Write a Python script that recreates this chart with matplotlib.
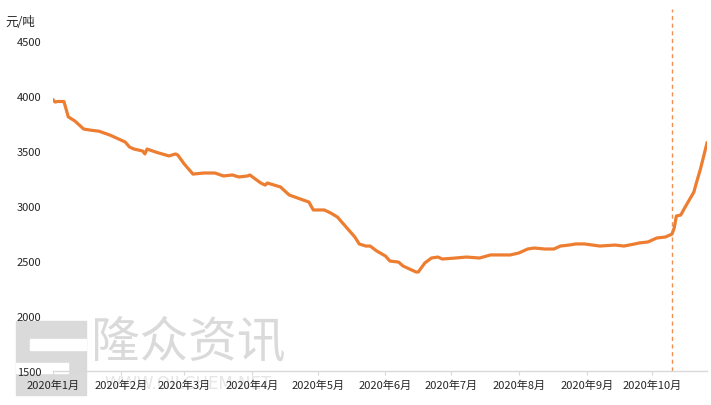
"""Price trend 2020 with a marker line at the October change."""

import matplotlib
matplotlib.use("Agg")
import matplotlib.pyplot as plt
import matplotlib.patches as patches
import pandas as pd

plt.rcParams["font.family"] = ["Noto Sans CJK SC", "DejaVu Sans"]

# Data.
dates = [
    "2020-01-01", "2020-01-02", "2020-01-03", "2020-01-06", "2020-01-08",
    "2020-01-11", "2020-01-15", "2020-01-18", "2020-01-22", "2020-01-27",
    "2020-02-03", "2020-02-05", "2020-02-07", "2020-02-11", "2020-02-12",
    "2020-02-13", "2020-02-17", "2020-02-23", "2020-02-26", "2020-02-27",
    "2020-03-01", "2020-03-05", "2020-03-10", "2020-03-15", "2020-03-19",
    "2020-03-23", "2020-03-26", "2020-03-30", "2020-03-31", "2020-04-05",
    "2020-04-07", "2020-04-08", "2020-04-14", "2020-04-18", "2020-04-23",
    "2020-04-27", "2020-04-29", "2020-05-04", "2020-05-07", "2020-05-10",
    "2020-05-14", "2020-05-18", "2020-05-20", "2020-05-23", "2020-05-25",
    "2020-05-28", "2020-06-01", "2020-06-03", "2020-06-07", "2020-06-09",
    "2020-06-12", "2020-06-15", "2020-06-16", "2020-06-19", "2020-06-22",
    "2020-06-25", "2020-06-27", "2020-07-03", "2020-07-08", "2020-07-14",
    "2020-07-19", "2020-07-28", "2020-08-01", "2020-08-05", "2020-08-08",
    "2020-08-13", "2020-08-17", "2020-08-20", "2020-08-24", "2020-08-27",
    "2020-08-31", "2020-09-07", "2020-09-14", "2020-09-18", "2020-09-23",
    "2020-09-25", "2020-09-29", "2020-10-03", "2020-10-07", "2020-10-10",
    "2020-10-11", "2020-10-12", "2020-10-14", "2020-10-16", "2020-10-20",
    "2020-10-21", "2020-10-23", "2020-10-26",
]
prices = [
    3965, 3945, 3950, 3950, 3810,
    3773, 3700, 3690, 3680, 3645,
    3582, 3536, 3518, 3500, 3473,
    3518, 3490, 3455, 3473, 3464,
    3382, 3290, 3300, 3300, 3273,
    3282, 3264, 3273, 3282, 3209,
    3190, 3209, 3173, 3100, 3064,
    3036, 2964, 2964, 2936, 2900,
    2809, 2718, 2655, 2636, 2636,
    2591, 2545, 2500, 2490, 2455,
    2427, 2400, 2400, 2482, 2527,
    2536, 2518, 2527, 2536, 2527,
    2555, 2555, 2573, 2609, 2618,
    2609, 2609, 2636, 2645, 2655,
    2655, 2636, 2645, 2636, 2655,
    2664, 2673, 2709, 2718, 2745,
    2800, 2909, 2918, 2990, 3127,
    3200, 3336, 3573,
]
marker_date = "2020-10-10"
month_ticks = pd.date_range("2020-01-01", "2020-10-01", freq="MS")
month_labels = ["2020年{}月".format(d.month) for d in month_ticks]
y_ticks = [1500, 2000, 2500, 3000, 3500, 4000, 4500]
unit_label = "元/吨"

orange = "#ED7D31"
text_color = "#262626"
wm_color = "#dadada"

figure = plt.figure(figsize=(7.11, 4.06), dpi=100)

# Watermark behind the chart.
def fig_rect(x0, y0, w, h, color):
    figure.patches.append(patches.Rectangle((x0 / 711, 1 - (y0 + h) / 406), w / 711, h / 406,
                                            transform=figure.transFigure, color=color, zorder=0))

fig_rect(16, 322, 70, 74, wm_color)
fig_rect(30, 340, 56, 11, "white")
fig_rect(16, 364, 52, 10, "white")
figure.text(188 / 711, 1 - 343 / 406, "隆众资讯", fontsize=35, color=wm_color,
            ha="center", va="center", zorder=0)
figure.text(188 / 711, 1 - 384 / 406, "WWW.OILCHEM.NET", fontsize=12, color="#e6e6e6",
            ha="center", va="center", zorder=0, family="DejaVu Sans")

axis = figure.add_axes([53 / 711, 1 - 372 / 406, 654 / 711, 363 / 406])
axis.set_zorder(2)
axis.patch.set_alpha(0)

x = pd.to_datetime(dates)
axis.plot(x, prices, color=orange, linewidth=2.3, solid_joinstyle="round", zorder=3)
axis.axvline(pd.Timestamp(marker_date), ymin=0, ymax=0.997, color=orange,
             linestyle=(0, (3, 2.5)), linewidth=1, alpha=0.85, zorder=2)

# Format.
axis.set_xlim(pd.Timestamp("2020-01-01"), pd.Timestamp("2020-10-26"))
axis.set_ylim(1500, 4800)
axis.set_yticks(y_ticks)
axis.set_yticklabels([str(v) for v in y_ticks], fontsize=8, color=text_color)
axis.set_xticks(month_ticks)
axis.set_xticklabels(month_labels, fontsize=8, color=text_color)
axis.tick_params(axis="y", length=0, pad=8.5)
axis.tick_params(axis="x", length=3, color="#d9d9d9", pad=3, direction="out")
for side in ("top", "right", "left"):
    axis.spines[side].set_visible(False)
axis.spines["bottom"].set_color("#d9d9d9")
axis.spines["bottom"].set_linewidth(1)

figure.text(5 / 711, 1 - 22 / 406, unit_label, fontsize=9, color=text_color,
            ha="left", va="center")

figure.savefig("out.png", dpi=100)
